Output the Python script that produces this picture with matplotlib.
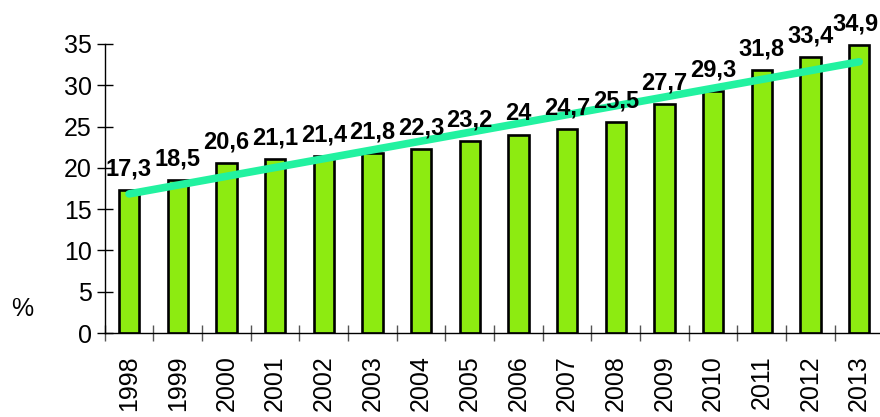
import numpy as np
import matplotlib.pyplot as plt

plt.rcParams['font.family'] = ['Liberation Sans', 'DejaVu Sans']

years = ['1998', '1999', '2000', '2001', '2002', '2003', '2004', '2005',
         '2006', '2007', '2008', '2009', '2010', '2011', '2012', '2013']
values = [17.3, 18.5, 20.6, 21.1, 21.4, 21.8, 22.3, 23.2,
          24, 24.7, 25.5, 27.7, 29.3, 31.8, 33.4, 34.9]
labels = ['17,3', '18,5', '20,6', '21,1', '21,4', '21,8', '22,3', '23,2',
          '24', '24,7', '25,5', '27,7', '29,3', '31,8', '33,4', '34,9']

x = np.arange(len(years))

fig = plt.figure(figsize=(8.8, 4.17), dpi=100)
ax = fig.add_axes([0.119, 0.2014, 0.885, 0.6931])

ax.bar(x, values, width=0.42, color='#8DEB11', edgecolor='black', linewidth=1.9, zorder=2)

# linear trend line
k, b = np.polyfit(x, values, 1)
ax.plot([x[0], x[-1]], [b + k * x[0], b + k * x[-1]], color='#22F2A0',
        linewidth=5.5, solid_capstyle='round', zorder=3)

for xi, v, lab in zip(x, values, labels):
    dx = -3 if xi == x[-1] else 0
    ax.annotate(lab, (xi, v), xytext=(dx, 7), textcoords='offset points',
                ha='center', va='bottom', fontsize=17, fontweight='bold', zorder=4)

ax.set_xlim(-0.5, 15.5)
ax.set_ylim(0, 35)
ax.set_yticks(range(0, 36, 5))
ax.tick_params(axis='y', direction='inout', length=11, width=1, labelsize=18, pad=4)

ax.set_xticks(x)
ax.set_xticklabels(years, rotation=90, fontsize=18)
ax.set_xticks(np.arange(-0.5, 15.5, 1), minor=True)
ax.tick_params(axis='x', which='major', length=0, pad=16)
ax.tick_params(axis='x', which='minor', direction='inout', length=11, width=1, color='#555555')

for s in ['top', 'right']:
    ax.spines[s].set_visible(False)
ax.spines['left'].set_linewidth(1)
ax.spines['bottom'].set_linewidth(1)

fig.text(0.025, 0.259, '%', fontsize=18, ha='center', va='center')

plt.savefig('out.png', dpi=100)
